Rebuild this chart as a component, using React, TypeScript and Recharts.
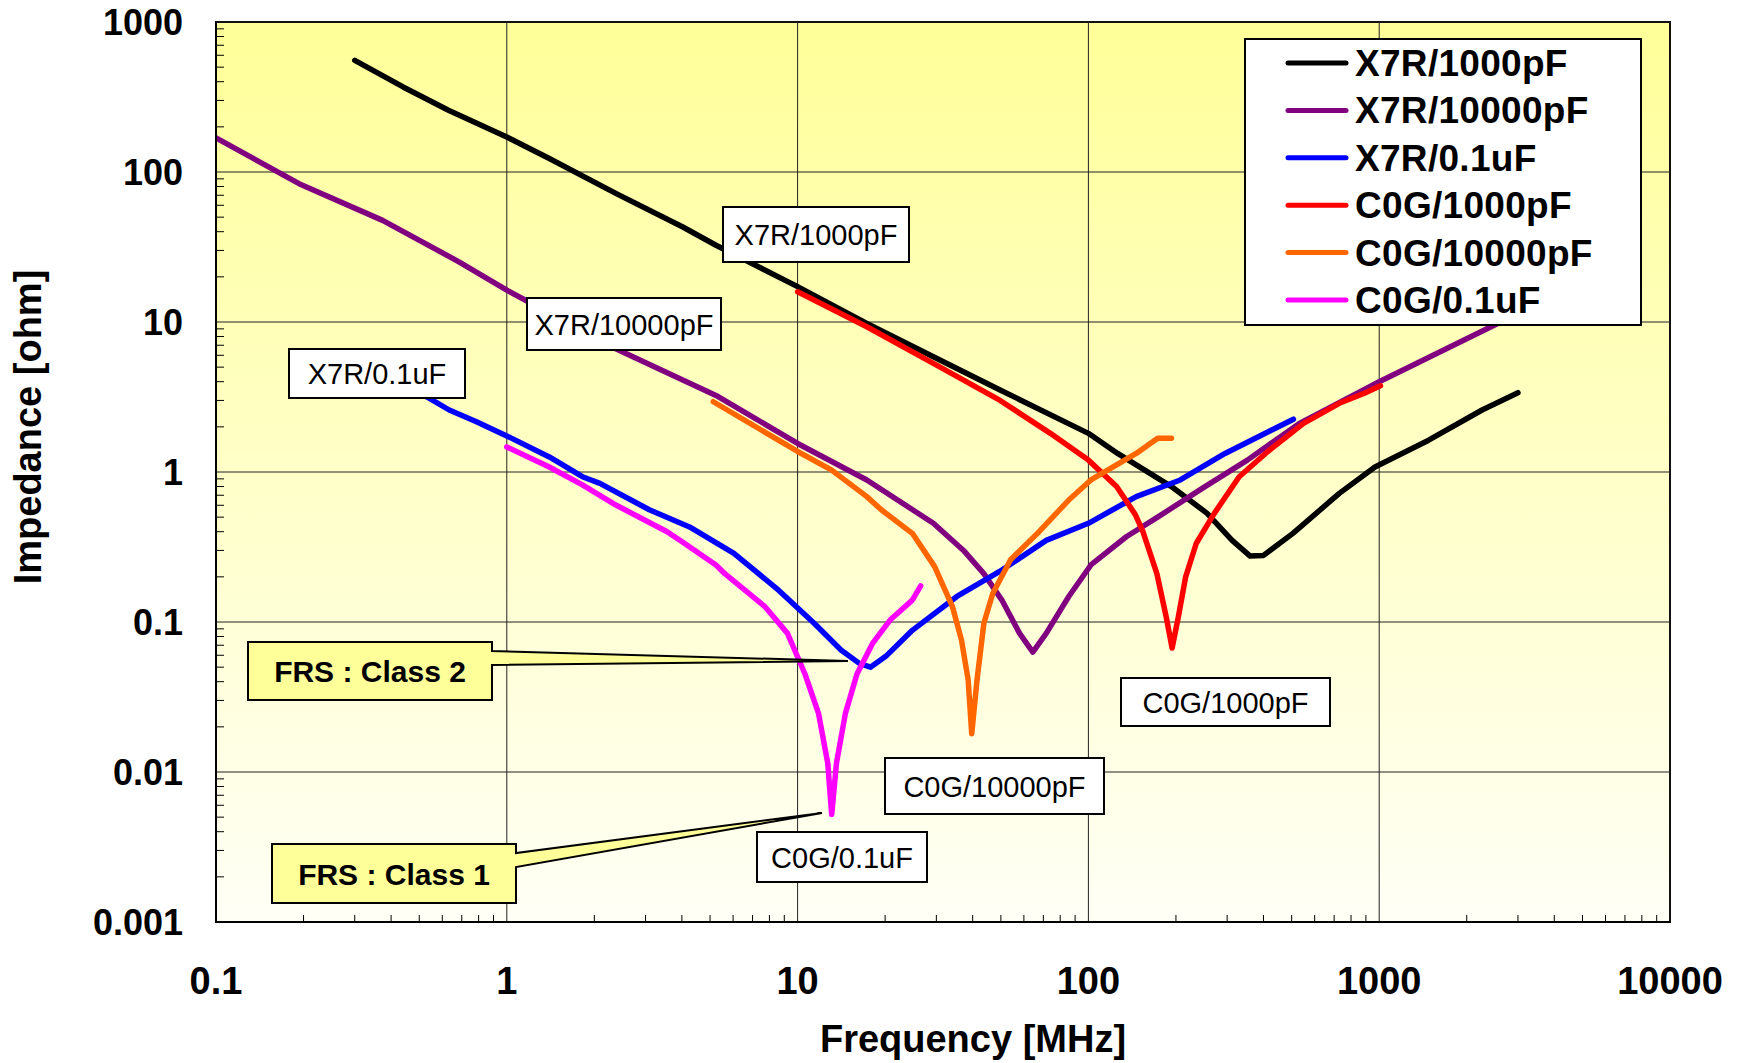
import React from "react";
import { LineChart, Line, XAxis, YAxis, CartesianGrid, Legend } from "recharts";

/* ── Layout ───────────────────────────────────────────────── */

const W = 1744;
const H = 1063;
const PLOT_L = 216;
const PLOT_R = 1670;
const PLOT_T = 22;
const PLOT_B = 922;
const FONT = '"Liberation Sans", Arial, Helvetica, sans-serif';

/* ── Axis ticks ───────────────────────────────────────────── */

const X_MAJOR = [0.1, 1, 10, 100, 1000, 10000];
const X_LABELS = ["0.1", "1", "10", "100", "1000", "10000"];
const Y_MAJOR = [0.001, 0.01, 0.1, 1, 10, 100, 1000];
const Y_LABELS = ["0.001", "0.01", "0.1", "1", "10", "100", "1000"];

const minorTicks = (decades: number[]) =>
  decades.slice(0, -1).flatMap((d) => [2, 3, 4, 5, 6, 7, 8, 9].map((m) => d * m));
const X_TICKS = [...X_MAJOR, ...minorTicks(X_MAJOR)];
const Y_TICKS = [...Y_MAJOR, ...minorTicks(Y_MAJOR)];

/* ── Measured impedance, frequency in MHz / |Z| in ohm ────── */

const x7r1000F = [0.3, 0.44, 0.63, 1.0, 1.4, 2.38, 4.03, 5.24, 10, 17.3, 29.3, 49.7, 100, 126, 193, 256, 312, 360, 400, 505, 729, 967, 1479, 2258, 3000];
const x7r1000Z = [555, 369, 258, 171, 123, 71.8, 43, 32.5, 17.2, 9.8, 5.87, 3.52, 1.81, 1.33, 0.8, 0.53, 0.35, 0.275, 0.278, 0.39, 0.72, 1.08, 1.63, 2.59, 3.38];

const x7r10000F = [0.1, 0.193, 0.374, 0.687, 1.0, 2.38, 5.24, 10, 17.3, 29.3, 37.2, 43.7, 50.4, 58, 64.4, 71.6, 85.6, 102, 135, 173, 247, 352, 530, 1000, 1800, 2535, 3000];
const x7r10000Z = [169, 83.6, 47.6, 25.1, 16.3, 6.6, 3.24, 1.55, 0.885, 0.455, 0.3, 0.21, 0.14, 0.084, 0.063, 0.084, 0.148, 0.24, 0.37, 0.5, 0.78, 1.2, 2.1, 4.0, 7.0, 9.7, 11.5];

const x7r01uF = [0.3, 0.542, 0.634, 0.783, 1.0, 1.4, 1.82, 2.09, 3.09, 4.25, 6.04, 8.6, 11.4, 14.1, 16.3, 17.8, 20.1, 24.8, 35.3, 50.4, 71.6, 100, 146, 207, 295, 507];
const x7r01uZ = [5.6, 3.1, 2.59, 2.17, 1.74, 1.26, 0.93, 0.84, 0.56, 0.43, 0.287, 0.163, 0.098, 0.065, 0.053, 0.05, 0.059, 0.088, 0.148, 0.222, 0.35, 0.455, 0.685, 0.885, 1.33, 2.25];

const c0g1000F = [10, 17.3, 29.3, 49.7, 74, 100, 125, 145, 154, 172, 185, 194, 204, 216, 235, 271, 330, 414, 549, 729, 889, 1010];
const c0g1000Z = [15.9, 9.3, 5.3, 3.0, 1.81, 1.2, 0.8, 0.52, 0.4, 0.21, 0.109, 0.067, 0.109, 0.2, 0.335, 0.53, 0.93, 1.37, 2.11, 2.87, 3.35, 3.76];

const c0g10000F = [5.13, 10, 13.1, 17.3, 19.4, 24.8, 29.6, 34.1, 36.6, 38.6, 39.7, 41.4, 43.7, 46.9, 54, 66.8, 85.6, 102, 146, 173, 193];
const c0g10000Z = [2.94, 1.37, 1.03, 0.685, 0.56, 0.39, 0.234, 0.126, 0.076, 0.041, 0.018, 0.041, 0.098, 0.155, 0.26, 0.39, 0.65, 0.885, 1.33, 1.68, 1.68];

const c0g01uF = [1.0, 1.4, 1.82, 2.38, 3.56, 4.03, 5.24, 5.62, 7.74, 9.23, 10.6, 11.8, 12.7, 13.1, 13.6, 14.6, 16.0, 18.1, 20.8, 24.8, 26.5];
const c0g01uZ = [1.47, 1.08, 0.82, 0.6, 0.4, 0.34, 0.24, 0.21, 0.126, 0.084, 0.045, 0.0246, 0.0114, 0.0052, 0.0114, 0.0246, 0.045, 0.072, 0.103, 0.14, 0.174];

const zip = (f: number[], z: number[]) => f.map((v, i) => ({ f: v, z: z[i] }));

const SERIES = [
  { name: "X7R/1000pF", color: "#000000", data: zip(x7r1000F, x7r1000Z) },
  { name: "X7R/10000pF", color: "#800080", data: zip(x7r10000F, x7r10000Z) },
  { name: "X7R/0.1uF", color: "#0000FF", data: zip(x7r01uF, x7r01uZ) },
  { name: "C0G/1000pF", color: "#FF0000", data: zip(c0g1000F, c0g1000Z) },
  { name: "C0G/10000pF", color: "#FF6600", data: zip(c0g10000F, c0g10000Z) },
  { name: "C0G/0.1uF", color: "#FF00FF", data: zip(c0g01uF, c0g01uZ) },
];

/* ── Curve name tags and FRS call-outs ────────────────────── */

const TAGS = [
  { text: "X7R/1000pF", x: 723, y: 207, w: 186, h: 55 },
  { text: "X7R/10000pF", x: 527, y: 298, w: 194, h: 52 },
  { text: "X7R/0.1uF", x: 289, y: 349, w: 176, h: 49 },
  { text: "C0G/1000pF", x: 1121, y: 678, w: 209, h: 48 },
  { text: "C0G/10000pF", x: 885, y: 758, w: 219, h: 56 },
  { text: "C0G/0.1uF", x: 757, y: 832, w: 170, h: 50 },
];

const CALLOUTS = [
  { text: "FRS : Class 2", x: 248, y: 642, w: 244, h: 58, a: 9, b: 23, tipX: 848, tipY: 661 },
  { text: "FRS : Class 1", x: 272, y: 844, w: 244, h: 59, a: 9, b: 23, tipX: 822, tipY: 813 },
];

/* ── Tick renderers: majors get a label, minors a short inside mark ── */

function XTick({ x, payload }: any) {
  const i = X_MAJOR.indexOf(payload.value);
  if (i < 0) {
    return <line x1={x} x2={x} y1={PLOT_B} y2={PLOT_B - 7} stroke="#000" strokeWidth={1} />;
  }
  return (
    <text x={x} y={PLOT_B + 72} textAnchor="middle" fontFamily={FONT} fontWeight="bold" fontSize={38} fill="#000">
      {X_LABELS[i]}
    </text>
  );
}

function YTick({ y, payload }: any) {
  const i = Y_MAJOR.indexOf(payload.value);
  if (i < 0) {
    return <line x1={PLOT_L} x2={PLOT_L + 8} y1={y} y2={y} stroke="#000" strokeWidth={1} />;
  }
  return (
    <text x={183} y={y} dy={13} textAnchor="end" fontFamily={FONT} fontWeight="bold" fontSize={36} fill="#000">
      {Y_LABELS[i]}
    </text>
  );
}

// grid only at the decades; the scale comes from the axis when available
const logPos = (v: number, lo: number, hi: number, start: number, size: number) =>
  start + (size * (Math.log10(v) - Math.log10(lo))) / (Math.log10(hi) - Math.log10(lo));

const vGrid = ({ xAxis, offset }: any) =>
  X_MAJOR.map((v) =>
    typeof xAxis?.scale === "function" ? xAxis.scale(v) : logPos(v, 0.1, 10000, offset.left, offset.width)
  );

const hGrid = ({ yAxis, offset }: any) =>
  Y_MAJOR.map((v) =>
    typeof yAxis?.scale === "function"
      ? yAxis.scale(v)
      : offset.top + offset.height - logPos(v, 0.001, 1000, 0, offset.height)
  );

/* ── Legend ───────────────────────────────────────────────── */

function LegendBox() {
  return (
    <svg width={398} height={288} style={{ display: "block" }}>
      <rect x={1} y={1} width={396} height={286} fill="#fff" stroke="#000" strokeWidth={2} />
      {SERIES.map((s, i) => {
        const cy = 25 + i * 47.4;
        return (
          <g key={s.name}>
            <line x1={44} x2={102} y1={cy} y2={cy} stroke={s.color} strokeWidth={5} strokeLinecap="round" />
            <text x={111} y={cy + 13} fontFamily={FONT} fontWeight="bold" fontSize={37} letterSpacing={0.3} fill="#000">
              {s.name}
            </text>
          </g>
        );
      })}
    </svg>
  );
}

/* ── Chart ────────────────────────────────────────────────── */

export default function App() {
  return (
    <div style={{ position: "absolute", left: 0, top: 0, width: W, height: H, background: "#fff" }}>
      {/* plot-area fill and frame sit behind the transparent chart svg */}
      <div
        style={{
          position: "absolute",
          left: PLOT_L - 1,
          top: PLOT_T - 1,
          width: PLOT_R - PLOT_L + 2,
          height: PLOT_B - PLOT_T + 2,
          boxSizing: "border-box",
          border: "2px solid #000",
          background: "linear-gradient(to bottom, #FFFF99 0%, #FFFFF6 100%)",
        }}
      />
      <LineChart width={W} height={H} margin={{ top: PLOT_T, right: W - PLOT_R, bottom: 0, left: 0 }}>
        <CartesianGrid
          stroke="#222"
          strokeWidth={1}
          verticalCoordinatesGenerator={vGrid}
          horizontalCoordinatesGenerator={hGrid}
        />
        <XAxis
          dataKey="f"
          type="number"
          scale="log"
          domain={[0.1, 10000]}
          allowDataOverflow
          ticks={X_TICKS}
          interval={0}
          height={H - PLOT_B}
          tickLine={false}
          axisLine={{ stroke: "#000", strokeWidth: 2 }}
          tick={(p: any) => <XTick {...p} />}
        />
        <YAxis
          type="number"
          scale="log"
          domain={[0.001, 1000]}
          allowDataOverflow
          ticks={Y_TICKS}
          interval={0}
          width={PLOT_L}
          tickLine={false}
          axisLine={{ stroke: "#000", strokeWidth: 2 }}
          tick={(p: any) => <YTick {...p} />}
        />
        {SERIES.map((s) => (
          <Line
            key={s.name}
            name={s.name}
            data={s.data}
            dataKey="z"
            type="linear"
            stroke={s.color}
            strokeWidth={5.5}
            strokeLinejoin="round"
            strokeLinecap="round"
            dot={false}
            activeDot={false}
            isAnimationActive={false}
          />
        ))}
        <Legend
          layout="vertical"
          align="center"
          verticalAlign="middle"
          wrapperStyle={{ left: 1244, top: 38, width: 398, height: 288 }}
          content={() => <LegendBox />}
        />
      </LineChart>

      <svg
        width={W}
        height={H}
        style={{ position: "absolute", left: 0, top: 0, pointerEvents: "none" }}
      >
        {TAGS.map((t) => (
          <g key={t.text}>
            <rect x={t.x} y={t.y} width={t.w} height={t.h} fill="#fff" stroke="#000" strokeWidth={2} />
            <text
              x={t.x + t.w / 2}
              y={t.y + t.h / 2 + 10.5}
              textAnchor="middle"
              fontFamily={FONT}
              fontSize={29}
              fill="#000"
            >
              {t.text}
            </text>
          </g>
        ))}
        {CALLOUTS.map((c) => (
          <g key={c.text}>
            <path
              d={`M${c.x},${c.y} H${c.x + c.w} V${c.y + c.a} L${c.tipX},${c.tipY} L${c.x + c.w},${c.y + c.b} V${c.y + c.h} H${c.x} Z`}
              fill="#FFFF99"
              stroke="#000"
              strokeWidth={2}
              strokeLinejoin="miter"
            />
            <text
              x={c.x + c.w / 2}
              y={c.y + c.h / 2 + 11}
              textAnchor="middle"
              fontFamily={FONT}
              fontWeight="bold"
              fontSize={30}
              fill="#000"
            >
              {c.text}
            </text>
          </g>
        ))}
        <text
          x={973}
          y={1052}
          textAnchor="middle"
          fontFamily={FONT}
          fontWeight="bold"
          fontSize={38}
          fill="#000"
        >
          Frequency [MHz]
        </text>
        <text
          x={41}
          y={427}
          transform="rotate(-90, 41, 427)"
          textAnchor="middle"
          fontFamily={FONT}
          fontWeight="bold"
          fontSize={38}
          fill="#000"
        >
          Impedance [ohm]
        </text>
      </svg>
    </div>
  );
}
